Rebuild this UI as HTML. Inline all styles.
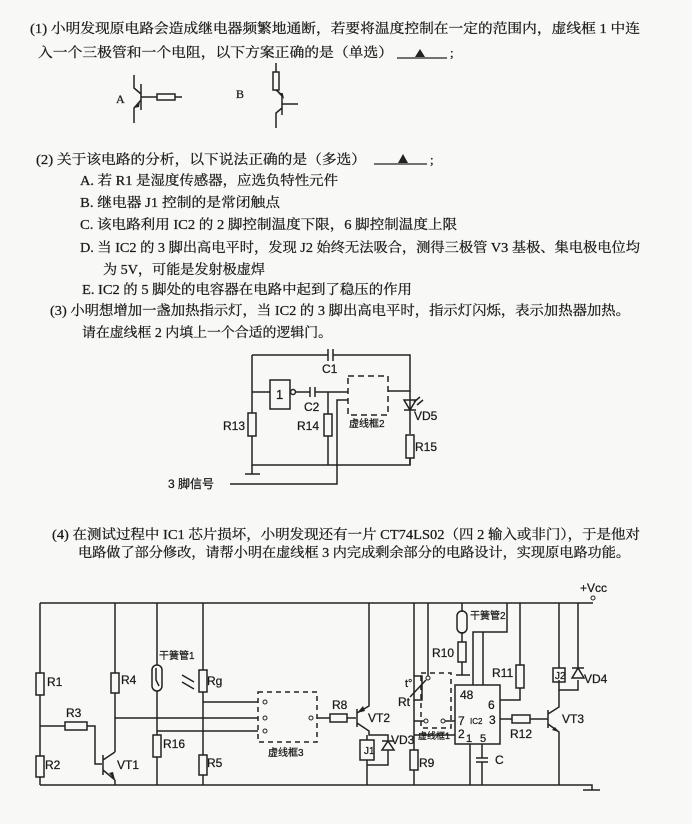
<!DOCTYPE html>
<html><head><meta charset="utf-8"><style>
html,body{margin:0;padding:0;background:#f8f8f6;}
svg{display:block}
text{font-family:"Liberation Serif","Noto Serif CJK SC",serif;fill:#1a1a1a;stroke:#1a1a1a;stroke-width:0.25;}
.s{font-family:"Liberation Sans","Noto Sans CJK SC",sans-serif;}
</style></head><body>
<svg width="692" height="824" viewBox="0 0 692 824" xmlns="http://www.w3.org/2000/svg">
<g font-size="13.5">
<text x="30" y="33" textLength="610" lengthAdjust="spacingAndGlyphs">(1) 小明发现原电路会造成继电器频繁地通断，若要将温度控制在一定的范围内，虚线框 1 中连</text>
<text x="38" y="57" textLength="355" lengthAdjust="spacingAndGlyphs">入一个三极管和一个电阻，以下方案正确的是（单选）</text>
<text x="36" y="164" textLength="330" lengthAdjust="spacingAndGlyphs">(2) 关于该电路的分析，以下说法正确的是（多选）</text>
<text x="80" y="185" textLength="258" lengthAdjust="spacingAndGlyphs">A. 若 R1 是湿度传感器，应选负特性元件</text>
<text x="80" y="207" textLength="200" lengthAdjust="spacingAndGlyphs">B. 继电器 J1 控制的是常闭触点</text>
<text x="80" y="229" textLength="377" lengthAdjust="spacingAndGlyphs">C. 该电路利用 IC2 的 2 脚控制温度下限，6 脚控制温度上限</text>
<text x="80" y="252" textLength="560" lengthAdjust="spacingAndGlyphs">D. 当 IC2 的 3 脚出高电平时，发现 J2 始终无法吸合，测得三极管 V3 基极、集电极电位均</text>
<text x="103" y="274" textLength="162" lengthAdjust="spacingAndGlyphs">为 5V，可能是发射极虚焊</text>
<text x="82" y="294" textLength="330" lengthAdjust="spacingAndGlyphs">E. IC2 的 5 脚处的电容器在电路中起到了稳压的作用</text>
<text x="50" y="315" textLength="580" lengthAdjust="spacingAndGlyphs">(3) 小明想增加一盏加热指示灯，当 IC2 的 3 脚出高电平时，指示灯闪烁，表示加热器加热。</text>
<text x="82" y="337" textLength="250" lengthAdjust="spacingAndGlyphs">请在虚线框 2 内填上一个合适的逻辑门。</text>
<text x="52" y="539" textLength="588" lengthAdjust="spacingAndGlyphs">(4) 在测试过程中 IC1 芯片损坏，小明发现还有一片 CT74LS02（四 2 输入或非门），于是他对</text>
<text x="78" y="557" textLength="552" lengthAdjust="spacingAndGlyphs">电路做了部分修改，请帮小明在虚线框 3 内完成剩余部分的电路设计，实现原电路功能。</text>
</g>
<g stroke="#222" stroke-width="1.3" fill="none">
<line x1="397" y1="58" x2="447" y2="58"/><line x1="374" y1="164" x2="427" y2="164"/>
</g>
<polygon points="420,49 415,57 425,57" fill="#222"/>
<polygon points="403,154 398,163 408,163" fill="#222"/>
<text x="450" y="57" font-size="13">;</text><text x="430" y="164" font-size="13">;</text>

<g stroke="#222" stroke-width="1.5" fill="none">
<line x1="141" y1="84" x2="141" y2="110"/>
<path d="M134 75 V88 L141 94 M141 100 L134 108 V123"/>
<line x1="141" y1="97" x2="157" y2="97"/><rect x="157" y="94" width="18" height="6"/><line x1="175" y1="97" x2="182" y2="97"/>
<rect x="273" y="72" width="6" height="18"/><line x1="276" y1="63" x2="276" y2="72"/>
<path d="M276 90 L282 95 M282 93 V115 M282 104 H298 M282 108 L276 113 V128"/>
</g>
<polygon points="134,108 140,101 139,107" fill="#222"/>
<polygon points="284,99 278,93 283,94" fill="#222"/>
<text x="116" y="103" font-size="12">A</text><text x="236" y="98" font-size="12">B</text>

<g stroke="#222" stroke-width="1.5" fill="none">
<path d="M252 355 H328 M333 355 H410 V391 H388"/>
<line x1="328" y1="349" x2="328" y2="361"/><line x1="333" y1="349" x2="333" y2="361"/>
<path d="M252 355 V413 M252 436 V465 H410 V458 M252 392 H270"/>
<rect x="248" y="413" width="8" height="23"/>
<rect x="270" y="380" width="20" height="29"/>
<circle cx="293" cy="392" r="2.5"/>
<path d="M296 392 H310 M315 392 H348"/>
<line x1="310" y1="387" x2="310" y2="397"/><line x1="315" y1="387" x2="315" y2="397"/>
<path d="M328 392 V414 M328 436 V465"/>
<rect x="324" y="414" width="8" height="22"/>
<rect x="348" y="376" width="40" height="39" stroke-dasharray="6,4"/>
<path d="M230 484 H337 V400 H348"/>
<path d="M410 391 V434 M410 458 V465"/>
<path d="M404 400 H416 L410 410 Z M404 410 H416"/>
<path d="M414 402 L420 397 M417 405 L423 400"/>
<rect x="406" y="435" width="8" height="23"/>
<path d="M252 465 V474 M245 474 H260"/>
</g>
<g font-size="12" class="s">
<text class="s" x="322" y="373">C1</text>
<text class="s" x="276" y="399" font-size="13">1</text>
<text class="s" x="304" y="411">C2</text>
<text class="s" x="223" y="430">R13</text>
<text class="s" x="297" y="430">R14</text>
<text class="s" x="349" y="427" font-size="10">虚线框2</text>
<text class="s" x="414" y="420">VD5</text>
<text class="s" x="415" y="451">R15</text>
<text class="s" x="168" y="488">3 脚信号</text>
</g>

<g stroke="#222" stroke-width="1.5" fill="none">
<path d="M40 603 H593"/>
<path d="M40 785 H592 V790 M583 790 H600"/>
<path d="M40 603 V673 M40 695 V756 M40 777 V785"/>
<rect x="36" y="673" width="8" height="22"/><rect x="36" y="756" width="8" height="21"/>
<path d="M40 726 H65 M87 726 H95 V764 H102"/>
<rect x="65" y="722" width="22" height="8"/>
<path d="M103 755 V775 M103 760 L115 752 M103 770 L115 780"/>
<path d="M115 603 V673 M115 693 V752 M115 780 V785"/>
<rect x="111" y="673" width="8" height="20"/>
<path d="M115 718 H258"/>
<path d="M157 603 V665 M157 691 V735 M157 757 V785"/>
<rect x="152" y="665" width="10" height="26" rx="5"/>
<path d="M156 668 V680 L159 686"/>
<rect x="153" y="735" width="8" height="22"/>
<path d="M157 731 H258"/>
<path d="M203 603 V670 M203 692 V755 M203 775 V785"/>
<rect x="199" y="670" width="8" height="22"/><rect x="199" y="755" width="8" height="20"/>
<path d="M203 702 H258"/>
<path d="M182 675 L194 682 M182 682 L194 689"/>
<rect x="258" y="692" width="59" height="50" stroke-dasharray="5,4"/>
<path d="M317 718 H330 M347 718 H356"/>
<rect x="330" y="714" width="17" height="8"/>
<path d="M357 709 V727 M357 713 L369 706 V603 M357 723 L369 731 V735 H388 V741"/>
<path d="M367 735 V740 M367 760 V765 H388 V760 M367 765 V785"/>
<rect x="360" y="740" width="14" height="20"/>
<path d="M382 750 H394 L388 741 Z M382 741 H394 M388 750 V760"/>
<path d="M414 603 V676 M414 700 V750 M414 770 V785"/>
<rect x="414" y="676" width="8" height="24"/><path d="M410 697 L426 680"/>
<rect x="410" y="750" width="8" height="20"/>
<path d="M428 603 V677"/>
<rect x="421" y="673" width="30" height="55" stroke-dasharray="5,4"/>
<path d="M414 721 H425 M444 721 H455 M414 735 H455"/>
<path d="M462 603 V612 M462 632 V642 M462 662 V675 M456 675 H470"/>
<rect x="457" y="611" width="10" height="22" rx="5"/>
<rect x="458" y="642" width="8" height="20"/>
<rect x="455" y="685" width="45" height="59"/>
<path d="M473 685 V632 H483 M483 685 V632 M483 632 H507 V603"/>
<path d="M520 603 V665 M520 688 V700 H500"/>
<rect x="516" y="665" width="8" height="23"/>
<path d="M470 744 V785 M482 744 V758 M476 758 H488 M476 762 H488 M482 762 V785"/>
<path d="M500 719 H512 M530 719 H548"/>
<rect x="512" y="715" width="18" height="8"/>
<path d="M548 710 V728 M548 714 L559 707 V690 M548 724 L559 732 V785"/>
<path d="M559 603 V668 M559 680 V690 H578 V680 M578 603 V668"/>
<rect x="553" y="668" width="12" height="14"/>
<path d="M572 678 H584 L578 668 Z M572 668 H584"/>
</g>
<g fill="#222">
<polygon points="115,780 109,773 113,772"/>
<polygon points="559,732 552,730 555,727"/>
<polygon points="357,713 363,706 365,711"/>
</g>
<g fill="#f8f8f6" stroke="#222" stroke-width="1">
<circle cx="265" cy="702" r="2"/><circle cx="265" cy="718" r="2"/><circle cx="265" cy="731" r="2"/><circle cx="311" cy="718" r="2"/>
<circle cx="428" cy="678" r="2"/><circle cx="426" cy="721" r="2"/><circle cx="443" cy="721" r="2"/><circle cx="593" cy="598" r="2"/>
</g>
<g font-size="12" class="s">
<text class="s" x="47" y="686">R1</text><text class="s" x="45" y="769">R2</text>
<text class="s" x="66" y="717">R3</text><text class="s" x="121" y="684">R4</text>
<text class="s" x="117" y="769">VT1</text>
<text class="s" x="159" y="659" font-size="10">干簧管1</text>
<text class="s" x="207" y="685">Rg</text>
<text class="s" x="163" y="748">R16</text><text class="s" x="207" y="767">R5</text>
<text class="s" x="332" y="709">R8</text>
<text class="s" x="268" y="756" font-size="10">虚线框3</text>
<text class="s" x="368" y="722">VT2</text>
<text class="s" x="364" y="754" font-size="10">J1</text>
<text class="s" x="391" y="744">VD3</text>
<text class="s" x="419" y="767">R9</text>
<text class="s" x="405" y="687" font-size="11">t°</text><text class="s" x="398" y="706">Rt</text>
<text class="s" x="432" y="657">R10</text>
<text class="s" x="470" y="619" font-size="10">干簧管2</text>
<text class="s" x="460" y="699">48</text>
<text class="s" x="488" y="709">6</text>
<text class="s" x="458" y="725">7</text><text class="s" x="470" y="724" font-size="8">IC2</text><text class="s" x="489" y="724">3</text>
<text class="s" x="458" y="738">2</text><text class="s" x="466" y="742" font-size="11">1</text><text class="s" x="480" y="742" font-size="11">5</text>
<text class="s" x="418" y="739" font-size="9">虚线框1</text>
<text class="s" x="495" y="764">C</text>
<text class="s" x="492" y="677">R11</text>
<text class="s" x="510" y="738">R12</text>
<text class="s" x="562" y="723">VT3</text>
<text class="s" x="555" y="679" font-size="10">J2</text>
<text class="s" x="584" y="683">VD4</text>
<text class="s" x="580" y="592">+Vcc</text>
</g>
</svg>
</body></html>
